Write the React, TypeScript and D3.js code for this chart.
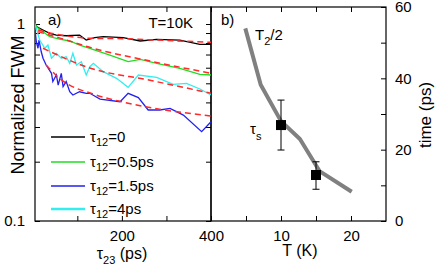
import React, { useEffect, useRef } from 'react';
import * as d3 from 'd3';

// panel a) normalized FWM vs tau23 (ps), one series per tau12
const fwmTau0 = [[5, 1.015], [8, 0.969], [23, 0.932], [38, 0.897], [53, 0.879], [75, 0.872], [105, 0.879], [120, 0.829], [139, 0.852], [158, 0.862], [203, 0.852], [241, 0.82], [278, 0.836], [330, 0.829], [375, 0.788], [400, 0.788]];
const fwmTau05 = [[5, 1.015], [8, 0.969], [23, 0.914], [38, 0.862], [60, 0.839], [83, 0.82], [105, 0.782], [128, 0.753], [173, 0.696], [214, 0.644], [241, 0.662], [278, 0.632], [330, 0.596], [375, 0.555], [400, 0.551]];
const fwmTau15 = [[5, 0.932], [8, 0.813], [11.7, 0.753], [14, 0.829], [19, 0.723], [23, 0.67], [30, 0.619], [42, 0.562], [45, 0.51], [53, 0.551], [57, 0.49], [64, 0.562], [68, 0.481], [75, 0.51], [83, 0.453], [90, 0.436], [105, 0.453], [120, 0.445], [128, 0.445], [151, 0.416], [196, 0.403], [214, 0.445], [237, 0.423], [259, 0.366], [285, 0.366], [308, 0.373], [338, 0.345], [379, 0.284], [400, 0.319]];
const fwmTau4 = [[5, 0.988], [8, 0.951], [15.5, 0.829], [27, 0.753], [34, 0.782], [42, 0.67], [53, 0.71], [64, 0.67], [75, 0.682], [83, 0.632], [90, 0.71], [98, 0.619], [109, 0.644], [120, 0.551], [128, 0.607], [136, 0.632], [158, 0.573], [188, 0.53], [214, 0.477], [237, 0.551], [278, 0.536], [315, 0.494], [345, 0.5], [375, 0.468], [400, 0.436]];

// dashed red fits
const fitTau0 = [[12, 0.932], [50, 0.89], [133, 0.846], [203, 0.842], [278, 0.829], [400, 0.807]];
const fitTau05 = [[12, 0.914], [61, 0.848], [133, 0.756], [270, 0.644], [400, 0.562]];
const fitTau15 = [[30, 0.619], [60, 0.53], [140, 0.438], [196, 0.405], [400, 0.341]];
const fitTau4 = [[23, 0.753], [128, 0.598], [263, 0.518], [400, 0.445]];

const series = [
  { label: '0', data: fwmTau0, fit: fitTau0, color: '#000000' },
  { label: '0.5ps', data: fwmTau05, fit: fitTau05, color: '#22dd22' },
  { label: '1.5ps', data: fwmTau15, fit: fitTau15, color: '#2222ee' },
  { label: '4ps', data: fwmTau4, fit: fitTau4, color: '#33eeee' },
];

// panel b) times vs temperature
const t2Half = [[4.9, 54], [7.1, 38.2], [10, 28], [12.7, 23], [15.5, 14], [20.1, 8.2]];
const tauSTemp = [10, 15];
const tauSValue = [26.9, 12.9];
const tauSHigh = [33.9, 16.6];
const tauSLow = [19.9, 8.9];

const aTicksX = [100, 200, 300, 400];
const aTicksY = [0.1, 0.2, 0.3, 0.4, 0.5, 0.6, 0.7, 0.8, 0.9, 1];
const bTicksX = [5, 10, 15, 20];
const bTicksY = [0, 10, 20, 30, 40, 50, 60];

const FONT = 'Liberation Sans, Arial, Helvetica, sans-serif';

const App = () => {
  const ref = useRef(null);

  useEffect(() => {
    const svg = d3.select(ref.current);
    svg.selectAll('*').remove();
    svg.attr('font-family', FONT);

    const xa = d3.scaleLinear().domain([5, 400]).range([35, 211]);
    const ya = d3.scaleLog().domain([0.1, 1.22]).range([221, 7]);
    const xb = d3.scaleLinear().domain([0, 25]).range([211, 386]);
    const yb = d3.scaleLinear().domain([0, 60]).range([221, 7]);

    const tick = 5;
    const styleAxis = (g) => {
      g.select('.domain').remove();
      g.selectAll('line').attr('stroke', '#000').attr('stroke-width', 1);
      g.selectAll('text').attr('font-size', 15).attr('font-family', FONT).attr('fill', '#000');
    };

    // panel a axes
    svg.append('g').attr('transform', 'translate(0,221)')
      .call(d3.axisBottom(xa).tickValues(aTicksX).tickSize(-tick).tickPadding(9)
        .tickFormat(d => (d % 200 === 0 ? String(d) : '')))
      .call(styleAxis);
    svg.append('g').attr('transform', 'translate(0,7)')
      .call(d3.axisTop(xa).tickValues(aTicksX).tickSize(-tick).tickFormat(() => ''))
      .call(styleAxis);
    svg.append('g').attr('transform', 'translate(35,0)')
      .call(d3.axisLeft(ya).tickValues(aTicksY).tickSize(-tick).tickPadding(10)
        .tickFormat(d => (d === 1 ? '1' : d === 0.1 ? '0.1' : '')))
      .call(styleAxis);
    svg.append('g').attr('transform', 'translate(211,0)')
      .call(d3.axisRight(ya).tickValues(aTicksY).tickSize(-tick).tickFormat(() => ''))
      .call(styleAxis);

    // panel b axes
    svg.append('g').attr('transform', 'translate(0,221)')
      .call(d3.axisBottom(xb).tickValues(bTicksX).tickSize(-tick).tickPadding(9)
        .tickFormat(d => (d % 10 === 0 ? String(d) : '')))
      .call(styleAxis);
    svg.append('g').attr('transform', 'translate(0,7)')
      .call(d3.axisTop(xb).tickValues(bTicksX).tickSize(-tick).tickFormat(() => ''))
      .call(styleAxis);
    svg.append('g').attr('transform', 'translate(386,0)')
      .call(d3.axisRight(yb).tickValues(bTicksY).tickSize(-tick).tickPadding(9)
        .tickFormat(d => (d % 20 === 0 ? String(d) : '')))
      .call(styleAxis);

    // frames
    svg.append('rect').attr('x', 35).attr('y', 7).attr('width', 176).attr('height', 214)
      .attr('fill', 'none').attr('stroke', '#000').attr('stroke-width', 1.2);
    svg.append('rect').attr('x', 211).attr('y', 7).attr('width', 175).attr('height', 214)
      .attr('fill', 'none').attr('stroke', '#000').attr('stroke-width', 1.2);

    // panel a lines
    const clipA = svg.append('clipPath').attr('id', 'clipA');
    clipA.append('rect').attr('x', 35).attr('y', 7).attr('width', 176).attr('height', 214);
    const plotA = svg.append('g').attr('clip-path', 'url(#clipA)');
    const lineA = d3.line().x(d => xa(d[0])).y(d => ya(d[1]));
    const fitLine = d3.line().x(d => xa(d[0])).y(d => ya(d[1])).curve(d3.curveMonotoneX);

    series.forEach(s => {
      plotA.append('path').datum(s.data).attr('d', lineA)
        .attr('fill', 'none').attr('stroke', s.color).attr('stroke-width', 1.3);
    });
    series.forEach(s => {
      plotA.append('path').datum(s.fit).attr('d', fitLine)
        .attr('fill', 'none').attr('stroke', '#ff2a2a').attr('stroke-width', 1.5)
        .attr('stroke-dasharray', '6,4');
    });

    // legend
    const legendY = [137, 162, 186, 209];
    series.forEach((s, i) => {
      svg.append('line').attr('x1', 51).attr('x2', 85).attr('y1', legendY[i]).attr('y2', legendY[i])
        .attr('stroke', s.color).attr('stroke-width', s.color === '#33eeee' ? 2.5 : 1.3);
      const t = svg.append('text').attr('x', 90).attr('y', legendY[i] + 5).attr('font-size', 15);
      t.append('tspan').text('τ');
      t.append('tspan').attr('font-size', 11).attr('dy', 4).text('12');
      t.append('tspan').attr('dy', -4).text('=' + s.label);
    });

    svg.append('text').attr('x', 48).attr('y', 25).attr('font-size', 15).text('a)');
    svg.append('text').attr('x', 193).attr('y', 28).attr('font-size', 15)
      .attr('text-anchor', 'end').text('T=10K');

    // panel b
    const lineB = d3.line().x(d => xb(d[0])).y(d => yb(d[1]));
    svg.append('path').datum(t2Half).attr('d', lineB)
      .attr('fill', 'none').attr('stroke', '#808080').attr('stroke-width', 4)
      .attr('stroke-linejoin', 'round');

    tauSTemp.forEach((T, i) => {
      const cx = xb(T);
      svg.append('line').attr('x1', cx).attr('x2', cx).attr('y1', yb(tauSHigh[i])).attr('y2', yb(tauSLow[i]))
        .attr('stroke', '#000').attr('stroke-width', 1);
      [tauSHigh[i], tauSLow[i]].forEach(v => {
        svg.append('line').attr('x1', cx - 3.5).attr('x2', cx + 3.5).attr('y1', yb(v)).attr('y2', yb(v))
          .attr('stroke', '#000').attr('stroke-width', 1);
      });
      svg.append('rect').attr('x', cx - 5).attr('y', yb(tauSValue[i]) - 5)
        .attr('width', 10).attr('height', 10).attr('fill', '#000');
    });

    svg.append('text').attr('x', 221).attr('y', 25).attr('font-size', 15).text('b)');
    const t2 = svg.append('text').attr('x', 255).attr('y', 40).attr('font-size', 15);
    t2.append('tspan').text('T');
    t2.append('tspan').attr('font-size', 11).attr('dy', 5).text('2');
    t2.append('tspan').attr('dy', -5).text('/2');
    const ts = svg.append('text').attr('x', 250).attr('y', 134).attr('font-size', 15);
    ts.append('tspan').text('τ');
    ts.append('tspan').attr('font-size', 11).attr('dy', 6).text('s');

    // axis titles
    svg.append('text').attr('transform', 'translate(24,105) rotate(-90)')
      .attr('text-anchor', 'middle').attr('font-size', 18).text('Normalized FWM');
    const xt = svg.append('text').attr('x', 122).attr('y', 259).attr('text-anchor', 'middle').attr('font-size', 16);
    xt.append('tspan').text('τ');
    xt.append('tspan').attr('font-size', 11).attr('dy', 5).text('23');
    xt.append('tspan').attr('dy', -5).text(' (ps)');
    svg.append('text').attr('x', 300).attr('y', 256).attr('text-anchor', 'middle').attr('font-size', 16).text('T (K)');
    svg.append('text').attr('transform', 'translate(431,115) rotate(-90)')
      .attr('text-anchor', 'middle').attr('font-size', 17).text('time (ps)');
  }, []);

  return (
    <svg ref={ref} width={436} height={270}
      style={{ position: 'absolute', left: 0, top: 0, background: '#fff' }} />
  );
};

export default App;
